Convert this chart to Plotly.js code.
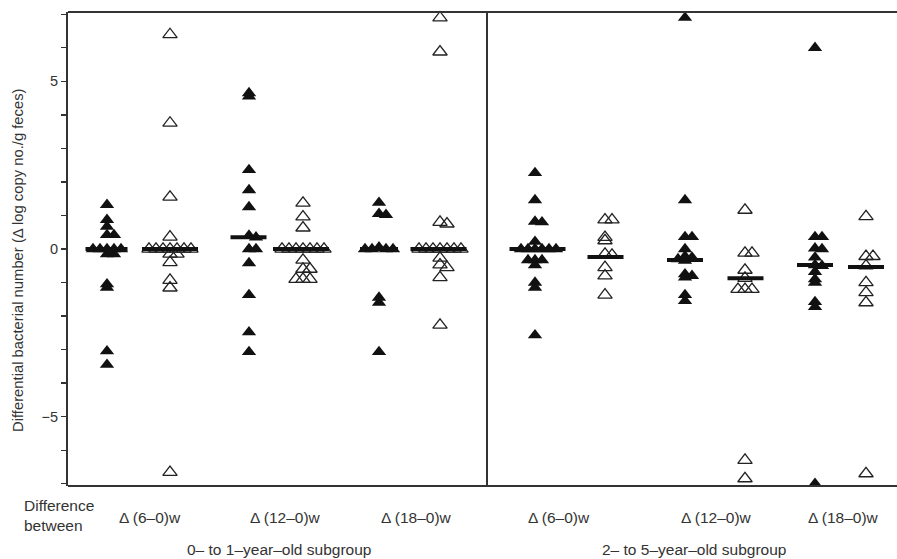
<!DOCTYPE html>
<html><head><meta charset="utf-8">
<script src="https://cdn.plot.ly/plotly-3.0.1.min.js"></script>
<style>html,body{margin:0;padding:0;background:#fff}#chart{width:897px;height:559px}</style>
</head><body><div id="chart"></div>
<script>
// ---- data ----
const categories = ['Δ (6–0)w', 'Δ (12–0)w', 'Δ (18–0)w'];
const groups = ['0– to 1–year–old subgroup', '2– to 5–year–old subgroup'];
const yTickVals = [-7,-6,-5,-4,-3,-2,-1,0,1,2,3,4,5,6,7];
const yTickText = ['','','−5','','','','','0','','','','','5','',''];

// 0- to 1-year-old subgroup
const young6Filled  = [1.32, 0.87, 0.67, 0.42, 0.42, 0, 0, 0, 0, 0, -0.15, -0.15, -1.05, -1.15, -3.05, -3.45];
const young6Open    = [6.4, 3.76, 1.55, 0.36, 0, 0, 0, 0, 0, 0, 0, -0.15, -0.15, -0.4, -0.93, -1.16, -6.66];
const young12Filled = [4.65, 4.55, 2.36, 1.76, 1.25, 0.4, 0.35, 0, 0, -0.42, -1.37, -2.48, -3.07];
const young12Open   = [1.37, 0.96, 0.63, 0, 0, 0, 0, 0, 0, 0, -0.33, -0.6, -0.6, -0.9, -0.9, -0.9];
const young18Filled = [1.38, 1.05, 1.02, 0.05, 0, 0, 0, 0, -1.45, -1.6, -3.07];
const young18Open   = [6.9, 5.88, 0.8, 0.75, 0, 0, 0, 0, 0, 0, 0, -0.27, -0.47, -0.55, -0.85, -2.27];
// 2- to 5-year-old subgroup
const old6Filled  = [2.27, 1.46, 0.82, 0.8, 0.22, 0, 0, 0, 0, 0, 0, -0.33, -0.33, -0.33, -0.48, -1.0, -1.15, -2.57];
const old6Open    = [0.87, 0.87, 0.35, 0.25, -0.15, -0.18, -0.55, -0.8, -1.37];
const old12Filled = [6.9, 1.46, 0.36, 0.36, 0.0, -0.22, -0.25, -0.3, -0.35, -0.75, -0.8, -0.85, -1.37, -1.55];
const old12Open   = [1.16, -0.12, -0.12, -0.63, -0.87, -1.2, -1.2, -1.2, -6.3, -6.85];
const old18Filled = [6.0, 0.36, 0.36, 0.02, 0, -0.25, -0.48, -0.5, -0.68, -0.9, -1.0, -1.58, -1.73, -7.0];
const old18Open   = [0.97, -0.22, -0.22, -0.5, -1.0, -1.3, -1.6, -6.7];

// medians as drawn in the picture
const medians = [0, 0, 0.35, 0, 0, 0, 0, -0.24, -0.33, -0.87, -0.48, -0.54];

// ---- layout constants (positions / styles) ----
const columns = [young6Filled, young6Open, young12Filled, young12Open, young18Filled, young18Open,
                 old6Filled, old6Open, old12Filled, old12Open, old18Filled, old18Open];
const filledFlags = [1,0,1,0,1,0,1,0,1,0,1,0];
const colPos = [39, 102, 181, 235, 311, 372, 467, 537, 617, 677, 747, 798];
const medianHalfWidth = [21, 28, 18, 28, 19, 28, 28, 18, 18, 18, 18, 18];
const medianPos = [38.5, 102, 180.5, 233, 311, 370.5, 469.5, 537.5, 617, 677.5, 747, 798];
const catLabelX = [82, 217, 348, 491, 648, 775];
const groupLabelX = [211, 626];
const dividerX = 419;
const Y_RANGE = [-7.07, 7.07];
const PLOT_W = 829, PLOT_H = 474;
const PX_PER_UNIT = PLOT_H / (Y_RANGE[1] - Y_RANGE[0]);

function swarm(vals, center, step, dxMin, dyMin) {
  const placed = [];
  return vals.map(v => {
    const py = v * PX_PER_UNIT;
    for (let i = 0; i < 60; i++) {
      const off = i === 0 ? 0 : (i % 2 ? 1 : -1) * Math.ceil(i / 2) * step;
      const ok = placed.every(p => Math.abs(p.x - off) >= dxMin || Math.abs(p.y - py) >= dyMin);
      if (ok) { placed.push({x: off, y: py}); return center + off; }
    }
    return center;
  });
}

const fX = [], fY = [], oX = [], oY = [];
columns.forEach((vals, i) => {
  const xs = swarm(vals, colPos[i], 7, 6.9, 3);
  if (filledFlags[i]) { fX.push(...xs); fY.push(...vals); }
  else { oX.push(...xs); oY.push(...vals); }
});
const mX = [], mY = [];
medians.forEach((m, i) => {
  mX.push(medianPos[i] - medianHalfWidth[i], medianPos[i] + medianHalfWidth[i], null);
  mY.push(m, m, null);
});

const traces = [
  {type: 'scatter', mode: 'markers', x: oX, y: oY, cliponaxis: false, hoverinfo: 'skip',
   marker: {symbol: 'triangle-up-open', size: 12.5, color: '#222', line: {width: 1.3, color: '#222'}}},
  {type: 'scatter', mode: 'markers', x: fX, y: fY, cliponaxis: false, hoverinfo: 'skip',
   marker: {symbol: 'triangle-up', size: 12.5, color: '#111', line: {width: 0}}},
  {type: 'scatter', mode: 'lines', x: mX, y: mY, cliponaxis: false, hoverinfo: 'skip',
   line: {color: '#111', width: 4}}
];

const fam = 'Liberation Sans, Arial, sans-serif';
const font = {family: fam, size: 15.5, color: '#333'};
const px2paperX = px => (px - 68) / PLOT_W;
const px2paperY = py => (486 - py) / PLOT_H;
const annotations = [];
categories.concat(categories).forEach((c, i) => {
  annotations.push({text: c, x: catLabelX[i], xref: 'x', y: px2paperY(517), yref: 'paper',
    showarrow: false, xanchor: 'center', yanchor: 'middle', font: font});
});
groups.forEach((g, i) => {
  annotations.push({text: g, x: groupLabelX[i], xref: 'x', y: px2paperY(549), yref: 'paper',
    showarrow: false, xanchor: 'center', yanchor: 'middle', font: font});
});
annotations.push({text: 'Difference<br>between', x: px2paperX(22), xref: 'paper', y: px2paperY(515), yref: 'paper',
  showarrow: false, xanchor: 'left', yanchor: 'middle', align: 'left', font: font});
annotations.push({text: 'Differential bacterial number (Δ log copy no./g feces)', textangle: -90,
  x: px2paperX(18), xref: 'paper', y: px2paperY(260), yref: 'paper', showarrow: false,
  xanchor: 'center', yanchor: 'middle', font: {family: fam, size: 14.8, color: '#333'}});

const layout = {
  width: 897, height: 559,
  margin: {l: 68, r: 0, t: 12, b: 73, pad: 0},
  paper_bgcolor: '#fff', plot_bgcolor: '#fff',
  showlegend: false,
  xaxis: {range: [0, PLOT_W], showgrid: false, zeroline: false, showticklabels: false, ticks: '', showline: false, fixedrange: true},
  yaxis: {range: Y_RANGE, showgrid: false, zeroline: false, showline: true, linecolor: '#333', linewidth: 2,
          ticks: 'outside', ticklen: 5, tickwidth: 1.2, tickcolor: '#333', tickvals: yTickVals, ticktext: yTickText,
          tickfont: {family: fam, size: 14.5, color: '#333'}, fixedrange: true},
  shapes: [
    {type: 'line', xref: 'paper', yref: 'paper', x0: 0, x1: 1, y0: 1, y1: 1, line: {color: '#333', width: 2}},
    {type: 'line', xref: 'paper', yref: 'paper', x0: 0, x1: 1, y0: 0, y1: 0, line: {color: '#333', width: 2}},
    {type: 'line', xref: 'x', yref: 'paper', x0: dividerX, x1: dividerX, y0: 0, y1: 1, line: {color: '#333', width: 2}}
  ],
  annotations: annotations
};

Plotly.newPlot('chart', traces, layout, {displayModeBar: false, staticPlot: true});
</script>
</body></html>
